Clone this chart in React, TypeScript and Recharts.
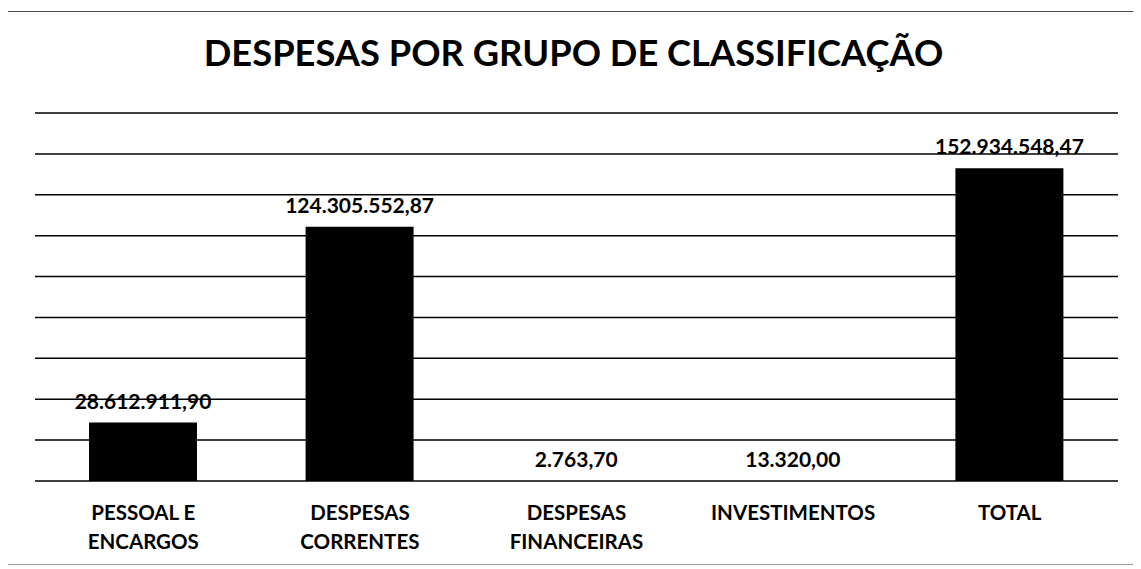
import { BarChart, Bar, XAxis, YAxis, CartesianGrid, LabelList } from "recharts";

const categories = ["PESSOAL E\nENCARGOS", "DESPESAS\nCORRENTES", "DESPESAS\nFINANCEIRAS", "INVESTIMENTOS", "TOTAL"];
const values = [28612911.9, 124305552.87, 2763.7, 13320.0, 152934548.47];
const yTicks = [0, 20000000, 40000000, 60000000, 80000000, 100000000, 120000000, 140000000, 160000000, 180000000];

const data = categories.map((name, i) => ({ name, value: values[i] }));

const FONT = "Lato, 'Open Sans', sans-serif";

// 152934548.47 -> "152.934.548,47"
function fmtBR(v: number) {
  const [int, dec] = v.toFixed(2).split(".");
  return int.replace(/\B(?=(\d{3})+(?!\d))/g, ".") + "," + dec;
}

function CategoryTick({ x, y, payload }: any) {
  const lines = String(payload.value).split("\n");
  return (
    <text x={x} y={y} textAnchor="middle" fontFamily={FONT} fontWeight={700} fontSize={20.5} fill="#000">
      {lines.map((l, i) => (
        <tspan key={i} x={x} dy={i === 0 ? 31 : 29}>{l}</tspan>
      ))}
    </text>
  );
}

export default function App() {
  return (
    <div style={{ position: "relative", width: 1141, height: 569, marginLeft: -8, marginTop: -8, overflow: "hidden", background: "#fff" }}>
      <div style={{ position: "absolute", left: 0, width: 1147, top: 30, textAlign: "center", fontFamily: FONT, fontWeight: 700, fontSize: 36.3, color: "#000" }}>
        DESPESAS POR GRUPO DE CLASSIFICAÇÃO
      </div>
      <BarChart width={1141} height={569} data={data} margin={{ top: 113, right: 23, bottom: 18, left: 35 }}>
        <CartesianGrid vertical={false} stroke="#000" strokeWidth={1.5} />
        <YAxis hide domain={[0, 180000000]} ticks={yTicks} />
        <XAxis dataKey="name" axisLine={false} tickLine={false} interval={0} height={70} tick={<CategoryTick />} />
        <Bar dataKey="value" fill="#000" barSize={108} isAnimationActive={false}>
          <LabelList dataKey="value" position="top" offset={14} formatter={(v: any) => fmtBR(Number(v))}
            style={{ fontFamily: FONT, fontWeight: 700, fontSize: 21, fill: "#000" }} />
        </Bar>
      </BarChart>
      {/* frame of the scanned page */}
      <div style={{ position: "absolute", zIndex: 5, left: 5, top: 11, width: 2, height: 554, background: "#333" }} />
      <div style={{ position: "absolute", zIndex: 5, left: 5, top: 11, width: 1136, height: 1, background: "#444" }} />
      <div style={{ position: "absolute", zIndex: 5, left: 5, top: 564, width: 1136, height: 1, background: "#999" }} />
    </div>
  );
}
